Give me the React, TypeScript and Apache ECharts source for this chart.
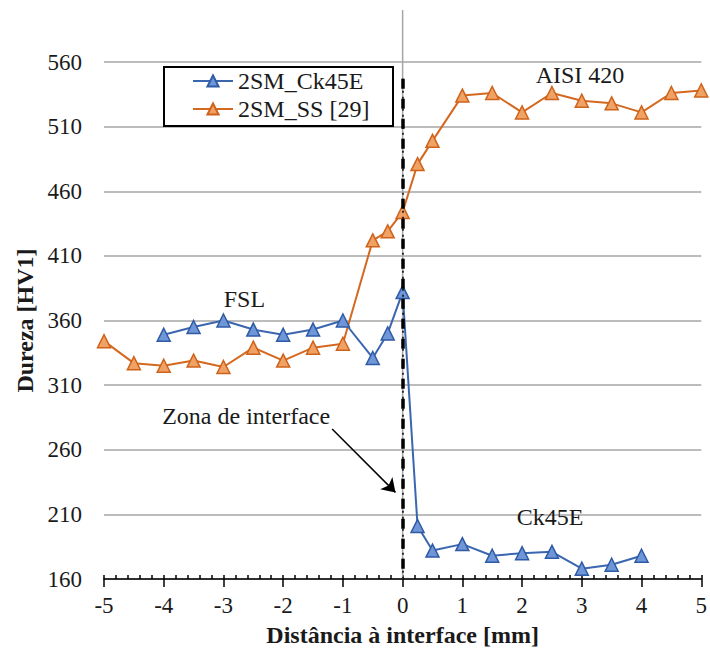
import React, { useEffect, useRef } from "react";
import * as echarts from "echarts";

const FONT = "Liberation Serif";

const blueName = "2SM_Ck45E";
const blueX = [-4, -3.5, -3, -2.5, -2, -1.5, -1, -0.5, -0.25, 0, 0.25, 0.5, 1, 1.5, 2, 2.5, 3, 3.5, 4];
const blueY = [349, 355, 360, 353, 349, 353, 360, 331, 350, 382, 201, 182, 187, 178, 180, 181, 168, 171, 178];

const orangeName = "2SM_SS [29]";
const orangeX = [-5, -4.5, -4, -3.5, -3, -2.5, -2, -1.5, -1, -0.5, -0.25, 0, 0.25, 0.5, 1, 1.5, 2, 2.5, 3, 3.5, 4, 4.5, 5];
const orangeY = [344, 327, 325, 329, 324, 339, 329, 339, 342, 422, 429, 444, 481, 499, 534, 536, 521, 536, 530, 528, 521, 536, 538];

const annotations = [
  { name: "FSL", x: -2.65, y: 377 },
  { name: "AISI 420", x: 2.97, y: 550 },
  { name: "Ck45E", x: 2.47, y: 208 },
  { name: "Zona de interface", x: -2.62, y: 286 },
];

const arrowFrom = [-1.18, 276];
const arrowTo = [-0.12, 227];
const interfaceTop = 547;

export default function App() {
  const ref = useRef<HTMLDivElement>(null);
  useEffect(() => {
    if (!ref.current) return;
    const chart = echarts.init(ref.current, undefined, { renderer: "svg" });
    const textColor = "#1a1a1a";
    const legendBox = {
      id: "legendBox",
      type: "rect",
      z: 4,
      shape: { x: 164, y: 67, width: 229, height: 59 },
      style: { fill: "#fff", stroke: "#000", lineWidth: 2 },
      silent: true,
    };
    const option: any = {
      animation: false,
      backgroundColor: "#fff",
      textStyle: { fontFamily: FONT },
      grid: { left: 104, right: 6, top: 62, bottom: 78, containLabel: false },
      legend: {
        orient: "vertical",
        left: 163,
        top: 66,
        borderWidth: 0,
        padding: [3, 22, 4, 29],
        itemWidth: 40,
        itemHeight: 14,
        itemGap: 4,
        z: 5,
        textStyle: { fontFamily: FONT, fontSize: 24, color: textColor },
        data: [blueName, orangeName],
      },
      graphic: [legendBox],
      xAxis: [
        {
          type: "value",
          min: -5,
          max: 5,
          interval: 1,
          axisLine: { show: true, onZero: false, lineStyle: { color: "#000", width: 1.5 } },
          axisTick: { show: true, length: 8, lineStyle: { color: "#000", width: 1.5 } },
          axisLabel: { fontFamily: FONT, fontSize: 23, color: textColor, margin: 15 },
          splitLine: { show: false },
          name: "Distância à interface [mm]",
          nameLocation: "middle",
          nameGap: 44,
          nameTextStyle: { fontFamily: FONT, fontWeight: "bold", fontSize: 24, color: textColor },
        },
        {
          type: "value",
          min: -5,
          max: 5,
          interval: 1,
          position: "bottom",
          axisLine: { show: false, onZero: false },
          axisTick: { show: true, inside: true, length: 4, lineStyle: { color: "#000", width: 1.5 } },
          minorTick: { show: true, splitNumber: 5, length: 4, lineStyle: { color: "#000", width: 1.5 } },
          axisLabel: { show: false },
          splitLine: { show: false },
        },
      ],
      yAxis: {
        type: "value",
        min: 160,
        max: 560,
        interval: 50,
        axisLine: { show: false },
        axisTick: { show: false },
        axisLabel: { fontFamily: FONT, fontSize: 23, color: textColor, margin: 22 },
        splitLine: { show: true, lineStyle: { color: "#a6a6a6", width: 1.5 } },
        name: "Dureza [HV1]",
        nameLocation: "middle",
        nameGap: 64,
        nameTextStyle: { fontFamily: FONT, fontWeight: "bold", fontSize: 24, color: textColor },
      },
      series: [
        {
          name: blueName,
          type: "line",
          xAxisIndex: 0,
          data: blueX.map((x, i) => [x, blueY[i]]),
          symbol: "triangle",
          symbolSize: 13,
          lineStyle: { color: "#3a66b0", width: 2 },
          itemStyle: { color: "#6f96d6", borderColor: "#2f5aa5", borderWidth: 1.5 },
          z: 3,
          markLine: {
            silent: true,
            symbol: ["none", "arrow"],
            symbolSize: 13,
            label: { show: false },
            lineStyle: { color: "#000", width: 1.5, type: "solid" },
            data: [[{ coord: arrowFrom }, { coord: arrowTo }]],
          },
          markPoint: {
            silent: true,
            symbol: "circle",
            symbolSize: 0,
            label: {
              show: true,
              position: "inside",
              formatter: (p: any) => p.name,
              fontFamily: FONT,
              fontSize: 24,
              color: textColor,
            },
            data: annotations.map((a) => ({ name: a.name, coord: [a.x, a.y] })),
          },
        },
        {
          name: orangeName,
          type: "line",
          xAxisIndex: 0,
          data: orangeX.map((x, i) => [x, orangeY[i]]),
          symbol: "triangle",
          symbolSize: 13,
          lineStyle: { color: "#d4681f", width: 2 },
          itemStyle: { color: "#f0a265", borderColor: "#cf621a", borderWidth: 1.5 },
          z: 3,
          markLine: {
            silent: true,
            symbol: "none",
            label: { show: false },
            data: [
              [
                { coord: [0, interfaceTop], lineStyle: { color: "#000", width: 1.5, type: [2, 4] } },
                { coord: [0, 160] },
              ],
              [
                { coord: [0, interfaceTop], lineStyle: { color: "#000", width: 3.5, type: [10, 10] } },
                { coord: [0, 160] },
              ],
            ],
          },
        },
      ],
    };
    chart.setOption(option);
    const pBottom = chart.convertToPixel({ gridIndex: 0 }, [0, 160]) as number[];
    chart.setOption({
      graphic: [
        legendBox,
        {
          id: "zeroAxis",
          type: "line",
          z: 1,
          shape: { x1: pBottom[0], y1: 10, x2: pBottom[0], y2: pBottom[1] },
          style: { stroke: "#a6a6a6", lineWidth: 1.5 },
          silent: true,
        },
      ],
    });
    return () => chart.dispose();
  }, []);
  return <div ref={ref} style={{ position: "fixed", left: 0, top: 0, width: 710, height: 657 }} />;
}
